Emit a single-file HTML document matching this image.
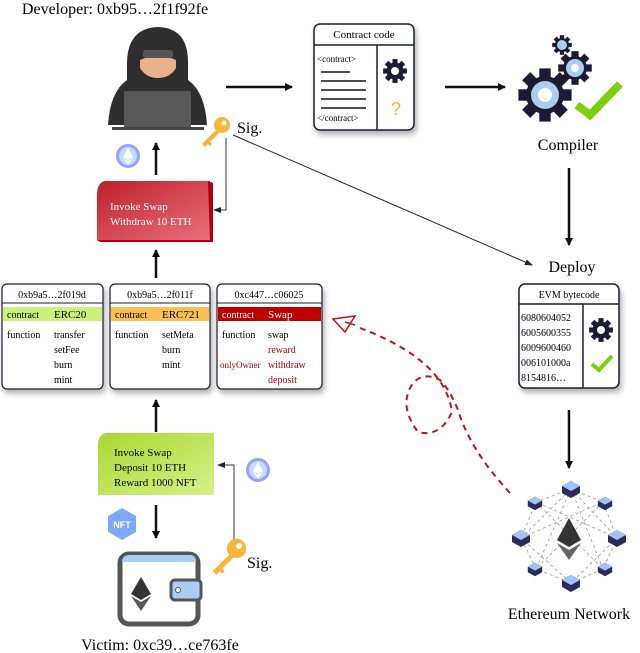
<!DOCTYPE html>
<html><head><meta charset="utf-8"><style>
body{margin:0;background:#fff}
svg{display:block;font-family:"Liberation Serif",serif}
</style></head><body>
<svg width="640" height="653" viewBox="0 0 640 653" xmlns="http://www.w3.org/2000/svg">
<defs>
<marker id="ah" markerWidth="8" markerHeight="8" refX="7" refY="4" orient="auto" markerUnits="userSpaceOnUse"><path d="M0,0 L8,4 L0,8 Z" fill="#111"/></marker>
<marker id="ahs" markerWidth="8" markerHeight="6" refX="7" refY="3" orient="auto" markerUnits="userSpaceOnUse"><path d="M0,0 L8,3 L0,6 Z" fill="#223"/></marker>
<filter id="sh" x="-20%" y="-20%" width="140%" height="150%"><feDropShadow dx="2" dy="4" stdDeviation="3" flood-opacity="0.3"/></filter>
<linearGradient id="red" x1="0" y1="0" x2="1" y2="1"><stop offset="0" stop-color="#c0202a"/><stop offset="1" stop-color="#e8707a"/></linearGradient>
<linearGradient id="grn" x1="0" y1="0" x2="1" y2="1"><stop offset="0" stop-color="#a8d830"/><stop offset="1" stop-color="#d8f08a"/></linearGradient>
<g id="gear"><circle r="10" fill="#1d1a33"/><g fill="#1d1a33"><rect x="-3" y="-14" width="6" height="28"/><rect x="-14" y="-3" width="28" height="6"/><rect x="-3" y="-14" width="6" height="28" transform="rotate(45)"/><rect x="-3" y="-14" width="6" height="28" transform="rotate(-45)"/></g></g>
<g id="node"><path d="M-9,-3 L0,-8 L9,-3 L9,4 L0,9 L-9,4Z" fill="#2c2a5a"/><path d="M-9,-3 L0,-8 L9,-3 L0,2Z" fill="#9fc3ff"/></g>
<g id="eth"><circle r="12" fill="#9aa0ff"/><circle r="9" fill="#bfe0ff"/><path d="M0,-8 L5,1 L0,4 L-5,1Z M0,5 L5,2 L0,9 L-5,2Z" fill="#fff"/></g>
<g id="key"><circle cx="8" cy="-8" r="8" fill="#f5b63a"/><circle cx="10" cy="-10" r="2.5" fill="#fff"/><path d="M3,-4 L-12,11 L-9,14 L-6,11 L-4,13 L-2,11 L-4,9 L6,-1Z" fill="#f5b63a"/></g>
</defs>

<!-- Developer -->
<text x="115" y="14" font-size="16" text-anchor="middle">Developer: 0xb95…2f1f92fe</text>
<path d="M127,62 Q128,28 158,27 Q188,28 188,62 L188,80 Q205,92 207,125 L108,125 Q110,92 127,80Z" fill="#2e2e2e"/>
<path d="M140,60 Q158,52 176,60 L176,68 Q170,78 158,78 Q146,78 140,68Z" fill="#e9b08c"/>
<rect x="143" y="50" width="30" height="8" rx="3" fill="#555"/>
<rect x="124" y="91" width="67" height="38" fill="#575757"/>
<rect x="112" y="127" width="92" height="3" fill="#444"/>
<line x1="226" y1="87" x2="292" y2="87" stroke="#111" stroke-width="2.5" marker-end="url(#ah)"/>

<!-- Contract code -->
<g filter="url(#sh)"><rect x="314" y="24" width="100" height="106" rx="6" fill="#fff" stroke="#1d1a33" stroke-width="1.5"/></g>
<line x1="314" y1="45" x2="414" y2="45" stroke="#1d1a33" stroke-width="1.5"/>
<line x1="377" y1="45" x2="377" y2="130" stroke="#1d1a33" stroke-width="1.5"/>
<text x="364" y="38" font-size="11" text-anchor="middle">Contract code</text>
<text x="317" y="62" font-size="9">&lt;contract&gt;</text>
<g stroke="#111" stroke-width="1.5"><line x1="321" y1="72" x2="350" y2="72"/><line x1="321" y1="81" x2="366" y2="81"/><line x1="321" y1="90" x2="366" y2="90"/><line x1="321" y1="99" x2="366" y2="99"/><line x1="321" y1="108" x2="366" y2="108"/></g>
<text x="317" y="121" font-size="9">&lt;/contract&gt;</text>
<use href="#gear" transform="translate(395,71) scale(0.85)"/><circle cx="395" cy="71" r="4" fill="#fff"/>
<text x="396" y="115" font-size="18" fill="#f5b63a" text-anchor="middle" font-family="Liberation Sans">?</text>
<line x1="445" y1="87" x2="505" y2="87" stroke="#111" stroke-width="2.5" marker-end="url(#ah)"/>

<!-- Compiler -->
<use href="#gear" transform="translate(545,95) scale(1.9)"/><circle cx="545" cy="95" r="14" fill="#a9cdf5"/><circle cx="545" cy="95" r="7" fill="#fff"/>
<use href="#gear" transform="translate(575,68) scale(1.2)"/><circle cx="575" cy="68" r="9" fill="#a9cdf5"/><circle cx="575" cy="68" r="4" fill="#fff"/>
<use href="#gear" transform="translate(562,45) scale(0.7)"/><circle cx="562" cy="45" r="5" fill="#a9cdf5"/>
<path d="M577,105 L590,115 L620,84" fill="none" stroke="#7dd10b" stroke-width="8"/>
<text x="568" y="150" font-size="16" text-anchor="middle">Compiler</text>
<line x1="569" y1="168" x2="569" y2="245" stroke="#111" stroke-width="2.5" marker-end="url(#ah)"/>
<text x="572" y="272" font-size="16" text-anchor="middle">Deploy</text>
<line x1="233" y1="135" x2="532" y2="265" stroke="#223" stroke-width="1" marker-end="url(#ahs)"/>

<!-- key sig top -->
<use href="#key" transform="translate(214,133)"/>
<text x="237" y="133" font-size="16">Sig.</text>
<polyline points="226,138 226,210 214,210" fill="none" stroke="#334" stroke-width="1" marker-end="url(#ahs)"/>
<use href="#eth" transform="translate(128,156)"/>
<line x1="156" y1="175" x2="156" y2="143" stroke="#111" stroke-width="2.5" marker-end="url(#ah)"/>
<path d="M105,181 L210,181 L210,240 L97,240 L97,195 Q97,183 105,181Z" fill="url(#red)"/>
<path d="M208,181 L213,183 L213,242 L100,242 L97,240 L210,240Z" fill="#b00010"/>
<text x="110" y="210" font-size="11" fill="#fff">Invoke Swap</text>
<text x="110" y="225" font-size="11" fill="#fff">Withdraw 10 ETH</text>
<line x1="156" y1="278" x2="156" y2="250" stroke="#111" stroke-width="2.5" marker-end="url(#ah)"/>

<!-- contract boxes -->
<g filter="url(#sh)">
<rect x="2" y="284" width="101" height="105" rx="5" fill="#fff" stroke="#1d1a33" stroke-width="1.2"/>
<rect x="110" y="284" width="100" height="105" rx="5" fill="#fff" stroke="#1d1a33" stroke-width="1.2"/>
<rect x="217" y="284" width="105" height="105" rx="5" fill="#fff" stroke="#1d1a33" stroke-width="1.2"/>
</g>
<g stroke="#1d1a33" stroke-width="1"><line x1="2" y1="303" x2="103" y2="303"/><line x1="110" y1="303" x2="210" y2="303"/><line x1="217" y1="303" x2="322" y2="303"/></g>
<rect x="3" y="307" width="99" height="14" fill="#c9f27a"/>
<rect x="111" y="307" width="98" height="14" fill="#fbc04f"/>
<rect x="218" y="307" width="103" height="14" fill="#c00000"/>
<g font-size="10">
<text x="52" y="298" text-anchor="middle">0xb9a5…2f019d</text>
<text x="160" y="298" text-anchor="middle">0xb9a5…2f011f</text>
<text x="269" y="298" text-anchor="middle">0xc447…c06025</text>
<text x="7" y="318">contract</text><text x="54" y="318" font-size="11">ERC20</text>
<text x="115" y="318">contract</text><text x="162" y="318" font-size="11">ERC721</text>
<text x="222" y="318" fill="#fff">contract</text><text x="268" y="318" font-size="11" fill="#fff">Swap</text>
<text x="7" y="338">function</text><text x="54" y="338">transfer</text><text x="54" y="353">setFee</text><text x="54" y="368">burn</text><text x="54" y="383">mint</text>
<text x="115" y="338">function</text><text x="162" y="338">setMeta</text><text x="162" y="353">burn</text><text x="162" y="368">mint</text>
<text x="222" y="338">function</text><text x="268" y="338">swap</text>
<text x="268" y="353" fill="#c00000">reward</text><text x="268" y="368" fill="#c00000">withdraw</text><text x="268" y="383" fill="#c00000">deposit</text>
<text x="220" y="368" font-size="9" fill="#c00000">onlyOwner</text>
</g>

<!-- dashed red -->
<path d="M510,493 Q470,450 458,410 Q450,390 440,380 Q420,370 410,388 Q400,408 418,432 Q440,438 452,412 Q445,360 360,328" fill="none" stroke="#c8101a" stroke-width="2" stroke-dasharray="6,5"/>
<path d="M333,319 L355,316 L345,332Z M345,322 L355,325" fill="#fff" stroke="#c8101a" stroke-width="1.5"/>

<!-- victim side -->
<line x1="156" y1="432" x2="156" y2="400" stroke="#111" stroke-width="2.5" marker-end="url(#ah)"/>
<path d="M106,433 L214,433 L214,495 L98,495 L98,445 Q98,435 106,433Z" fill="url(#grn)"/>
<text x="114" y="456" font-size="11">Invoke Swap</text>
<text x="114" y="471" font-size="11">Deposit 10 ETH</text>
<text x="114" y="486" font-size="11">Reward 1000 NFT</text>
<use href="#eth" transform="translate(258,470)"/>
<polyline points="234,545 234,465 218,465" fill="none" stroke="#334" stroke-width="1" marker-end="url(#ahs)"/>
<path d="M122,508 L136,516 L136,532 L122,540 L108,532 L108,516Z" fill="#7fa8ff"/>
<text x="122" y="528" font-size="9" fill="#fff" text-anchor="middle" font-family="Liberation Sans" font-weight="bold">NFT</text>
<line x1="156" y1="505" x2="156" y2="538" stroke="#111" stroke-width="2.5" marker-end="url(#ah)"/>
<rect x="120" y="554" width="78" height="70" rx="9" fill="#fff" stroke="#555" stroke-width="5"/>
<path d="M122,562 Q122,555 130,555 L190,555 Q196,555 196,562Z" fill="#a9cdf5"/>
<rect x="171" y="580" width="30" height="20" rx="4" fill="#a9cdf5" stroke="#555" stroke-width="3"/>
<circle cx="178" cy="590" r="2.5" fill="#fff" stroke="#555"/>
<path d="M141,577 L151,594 L141,600 L131,594Z" fill="#333"/><path d="M141,602 L151,596 L141,611 L131,596Z" fill="#555"/>
<use href="#key" transform="translate(227,558) scale(1.2)"/>
<text x="247" y="568" font-size="16">Sig.</text>
<text x="160" y="650" font-size="16" text-anchor="middle">Victim: 0xc39…ce763fe</text>

<!-- EVM -->
<g filter="url(#sh)"><rect x="519" y="284" width="100" height="104" rx="6" fill="#fff" stroke="#1d1a33" stroke-width="1.5"/></g>
<line x1="519" y1="304" x2="619" y2="304" stroke="#1d1a33" stroke-width="1.5"/>
<line x1="583" y1="304" x2="583" y2="388" stroke="#1d1a33" stroke-width="1.5"/>
<text x="569" y="298" font-size="10" text-anchor="middle">EVM bytecode</text>
<g font-size="10"><text x="521" y="321">6080604052</text><text x="521" y="336">6005600355</text><text x="521" y="351">6009600460</text><text x="521" y="366">006101000a</text><text x="521" y="381">8154816…</text></g>
<use href="#gear" transform="translate(601,330) scale(0.85)"/><circle cx="601" cy="330" r="4" fill="#fff"/>
<path d="M592,364 L599,370 L612,356" fill="none" stroke="#7dd10b" stroke-width="4"/>
<line x1="569" y1="410" x2="569" y2="468" stroke="#111" stroke-width="2.5" marker-end="url(#ah)"/>

<!-- network -->
<g stroke="#999" stroke-width="0.8" stroke-dasharray="3,3" fill="none">
<polygon points="571,489 603,502 617,538 603,569 571,583 536,569 521,538 536,502"/>
<path d="M571,489 L617,538 L571,583 L521,538Z M536,502 L603,569 M603,502 L536,569 M571,489 L536,569 M571,489 L603,569 M521,538 L603,502 M617,538 L536,502"/>
</g>
<path d="M569,518 L581,540 L569,547 L557,540Z" fill="#333"/><path d="M569,550 L581,543 L569,560 L557,543Z" fill="#666"/>
<use href="#node" transform="translate(571,489)"/><use href="#node" transform="translate(605,503) scale(0.8)"/>
<use href="#node" transform="translate(617,538)"/><use href="#node" transform="translate(605,569) scale(0.8)"/>
<use href="#node" transform="translate(571,583)"/><use href="#node" transform="translate(535,569) scale(0.8)"/>
<use href="#node" transform="translate(521,538)"/><use href="#node" transform="translate(535,503) scale(0.8)"/>
<text x="569" y="619" font-size="16" text-anchor="middle">Ethereum Network</text>
</svg>
</body></html>
